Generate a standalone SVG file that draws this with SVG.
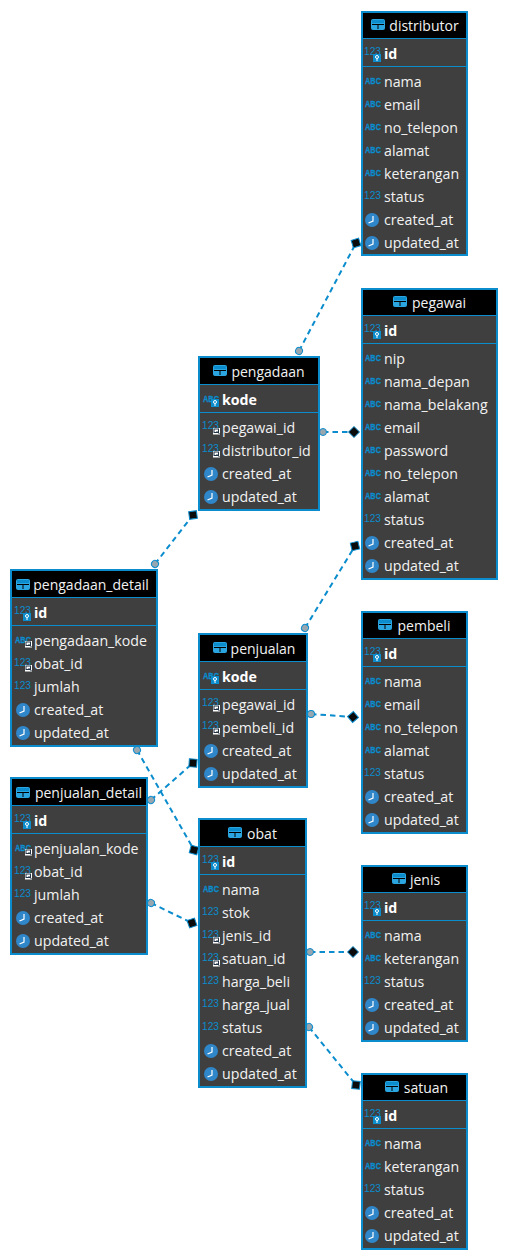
<svg xmlns="http://www.w3.org/2000/svg" width="508" height="1260" viewBox="0 0 508 1260">
<style>
.b{fill:#3f3f3f;stroke:#0a8ccd;stroke-width:2}
.h{fill:#000}
.l{stroke:#0a8ccd;stroke-width:1;fill:none}
text{font-family:"Open Sans","Noto Sans","Liberation Sans",sans-serif;font-size:14.2px;fill:#f2f2f2}
.t{text-anchor:middle;font-size:14px}
.k{font-weight:700;fill:#fff}
.i{font-size:11px;fill:#0a8ccd;font-family:"Liberation Sans",sans-serif}
.a{font-size:9.5px;font-weight:700;fill:#0a8ccd;stroke:#0a8ccd;stroke-width:.3;font-family:"Liberation Sans",sans-serif}
.c{fill:none;stroke:#0a8ccd;stroke-width:2;stroke-dasharray:5.500 4;marker-start:url(#s);marker-end:url(#e)}
</style>
<defs>
<marker id="s" markerUnits="userSpaceOnUse" markerWidth="10" markerHeight="10" refX="5" refY="5" orient="auto"><circle cx="5" cy="5" r="3.500" fill="#97a6af" stroke="#0a8ccd" stroke-width="1"/></marker>
<marker id="e" markerUnits="userSpaceOnUse" markerWidth="14" markerHeight="14" refX="7" refY="7" orient="auto"><path d="M7 1.500L12.500 7 7 12.500 1.500 7Z" fill="#0b0b0b" stroke="#0a8ccd" stroke-width="1"/></marker>
<g id="tb"><rect x="0" y="0" width="14" height="11" rx="2" fill="#2aa5e0"/><path d="M1 5.500H13M7 5.500V10" stroke="#000" stroke-width="1"/><rect x="1" y="1" width="12" height="3" fill="#0a8ccd"/></g>
<g id="n"><text class="i" textLength="17" lengthAdjust="spacingAndGlyphs">123</text></g>
<g id="s1"><text class="a" y="3" textLength="16" lengthAdjust="spacingAndGlyphs">ABC</text></g>
<g id="clk"><circle cx="7" cy="7" r="7" fill="#2f86c9"/><path d="M8 3V8L3.500 10" fill="none" stroke="#fff" stroke-width="1.200"/></g>
<g id="key"><rect x="0" y="0" width="8" height="8" fill="#0a8ccd"/><circle cx="4" cy="3" r="1.500" fill="none" stroke="#fff"/><path d="M4 4.500V7" stroke="#fff"/></g>
<g id="fk"><rect x="0" y="0" width="7" height="6.500" fill="#fff"/><rect x="1" y="1" width="4.500" height="3.500" fill="none" stroke="#234" stroke-width="1"/><path d="M3.500 3L6.500 6" stroke="#234"/></g>
</defs>
<g id="connectors">
<path class="c" d="M299 351L356 243"/>
<path class="c" d="M323 432H354"/>
<path class="c" d="M155 564L193 515"/>
<path class="c" d="M305 628L355 546"/>
<path class="c" d="M311 714L353 717"/>
<path class="c" d="M151 800L193 763"/>
<path class="c" d="M137 750L194 850"/>
<path class="c" d="M151 903L192 923"/>
<path class="c" d="M310 952H353"/>
<path class="c" d="M309 1027L356 1085"/>
</g>
<g id="distributor">
<rect class="b" x="362" y="12" width="105" height="243"/><rect class="h" x="363" y="13" width="103" height="25"/><path class="l" d="M362 38.500H467M362 66.500H467"/>
<use href="#tb" x="371" y="19"/><text class="t" x="424" y="31">distributor</text>
<use href="#n" x="364" y="55"/><use href="#key" x="373" y="54"/><text class="k" x="384" y="59">id</text>
<use href="#s1" x="365" y="81"/><text x="384" y="87">nama</text>
<use href="#s1" x="365" y="104"/><text x="384" y="110">email</text>
<use href="#s1" x="365" y="127"/><text x="384" y="133">no_telepon</text>
<use href="#s1" x="365" y="150"/><text x="384" y="156">alamat</text>
<use href="#s1" x="365" y="173"/><text x="384" y="179">keterangan</text>
<use href="#n" x="364" y="199"/><text x="384" y="202">status</text>
<use href="#clk" x="365" y="213"/><text x="384" y="225">created_at</text>
<use href="#clk" x="365" y="236"/><text x="384" y="248">updated_at</text>
</g>
<g id="pegawai">
<rect class="b" x="362" y="289" width="135" height="290"/><rect class="h" x="363" y="290" width="133" height="25"/><path class="l" d="M362 315.500H497M362 343.500H497"/>
<use href="#tb" x="393" y="296"/><text class="t" x="439" y="308">pegawai</text>
<use href="#n" x="364" y="332"/><use href="#key" x="373" y="331"/><text class="k" x="384" y="336">id</text>
<use href="#s1" x="365" y="358"/><text x="384" y="364">nip</text>
<use href="#s1" x="365" y="381"/><text x="384" y="387">nama_depan</text>
<use href="#s1" x="365" y="404"/><text x="384" y="410">nama_belakang</text>
<use href="#s1" x="365" y="427"/><text x="384" y="433">email</text>
<use href="#s1" x="365" y="450"/><text x="384" y="456">password</text>
<use href="#s1" x="365" y="473"/><text x="384" y="479">no_telepon</text>
<use href="#s1" x="365" y="496"/><text x="384" y="502">alamat</text>
<use href="#n" x="364" y="522"/><text x="384" y="525">status</text>
<use href="#clk" x="365" y="536"/><text x="384" y="548">created_at</text>
<use href="#clk" x="365" y="559"/><text x="384" y="571">updated_at</text>
</g>
<g id="pembeli">
<rect class="b" x="362" y="612" width="105" height="221"/><rect class="h" x="363" y="613" width="103" height="25"/><path class="l" d="M362 638.500H467M362 666.500H467"/>
<use href="#tb" x="378" y="619"/><text class="t" x="424" y="631">pembeli</text>
<use href="#n" x="364" y="655"/><use href="#key" x="373" y="654"/><text class="k" x="384" y="659">id</text>
<use href="#s1" x="365" y="681"/><text x="384" y="687">nama</text>
<use href="#s1" x="365" y="704"/><text x="384" y="710">email</text>
<use href="#s1" x="365" y="727"/><text x="384" y="733">no_telepon</text>
<use href="#s1" x="365" y="750"/><text x="384" y="756">alamat</text>
<use href="#n" x="364" y="776"/><text x="384" y="779">status</text>
<use href="#clk" x="365" y="790"/><text x="384" y="802">created_at</text>
<use href="#clk" x="365" y="813"/><text x="384" y="825">updated_at</text>
</g>
<g id="jenis">
<rect class="b" x="362" y="866" width="105" height="175"/><rect class="h" x="363" y="867" width="103" height="25"/><path class="l" d="M362 892.500H467M362 920.500H467"/>
<use href="#tb" x="392" y="873"/><text class="t" x="425" y="885">jenis</text>
<use href="#n" x="364" y="909"/><use href="#key" x="373" y="908"/><text class="k" x="384" y="913">id</text>
<use href="#s1" x="365" y="935"/><text x="384" y="941">nama</text>
<use href="#s1" x="365" y="958"/><text x="384" y="964">keterangan</text>
<use href="#n" x="364" y="984"/><text x="384" y="987">status</text>
<use href="#clk" x="365" y="998"/><text x="384" y="1010">created_at</text>
<use href="#clk" x="365" y="1021"/><text x="384" y="1033">updated_at</text>
</g>
<g id="satuan">
<rect class="b" x="362" y="1074" width="105" height="175"/><rect class="h" x="363" y="1075" width="103" height="25"/><path class="l" d="M362 1100.500H467M362 1128.500H467"/>
<use href="#tb" x="385" y="1081"/><text class="t" x="426" y="1093">satuan</text>
<use href="#n" x="364" y="1117"/><use href="#key" x="373" y="1116"/><text class="k" x="384" y="1121">id</text>
<use href="#s1" x="365" y="1143"/><text x="384" y="1149">nama</text>
<use href="#s1" x="365" y="1166"/><text x="384" y="1172">keterangan</text>
<use href="#n" x="364" y="1192"/><text x="384" y="1195">status</text>
<use href="#clk" x="365" y="1206"/><text x="384" y="1218">created_at</text>
<use href="#clk" x="365" y="1229"/><text x="384" y="1241">updated_at</text>
</g>
<g id="pengadaan">
<rect class="b" x="199" y="357" width="120" height="153"/><rect class="h" x="200" y="358" width="118" height="26"/><path class="l" d="M199 384.500H319M199 412.500H319"/>
<use href="#tb" x="213" y="365"/><text class="t" x="268" y="377">pengadaan</text>
<use href="#s1" x="203" y="399"/><use href="#key" x="211" y="399"/><text class="k" x="222" y="405">kode</text>
<use href="#n" x="202" y="429"/><use href="#fk" x="213" y="428"/><text x="222" y="433">pegawai_id</text>
<use href="#n" x="202" y="452"/><use href="#fk" x="213" y="451"/><text x="222" y="456">distributor_id</text>
<use href="#clk" x="204" y="467"/><text x="222" y="479">created_at</text>
<use href="#clk" x="204" y="490"/><text x="222" y="502">updated_at</text>
</g>
<g id="penjualan">
<rect class="b" x="199" y="634" width="108" height="153"/><rect class="h" x="200" y="635" width="106" height="26"/><path class="l" d="M199 661.500H307M199 689.500H307"/>
<use href="#tb" x="213" y="642"/><text class="t" x="263" y="654">penjualan</text>
<use href="#s1" x="203" y="676"/><use href="#key" x="211" y="676"/><text class="k" x="222" y="682">kode</text>
<use href="#n" x="202" y="706"/><use href="#fk" x="213" y="705"/><text x="222" y="710">pegawai_id</text>
<use href="#n" x="202" y="729"/><use href="#fk" x="213" y="728"/><text x="222" y="733">pembeli_id</text>
<use href="#clk" x="204" y="744"/><text x="222" y="756">created_at</text>
<use href="#clk" x="204" y="767"/><text x="222" y="779">updated_at</text>
</g>
<g id="obat">
<rect class="b" x="199" y="819" width="107" height="268"/><rect class="h" x="200" y="820" width="105" height="26"/><path class="l" d="M199 846.500H306M199 874.500H306"/>
<use href="#tb" x="228" y="827"/><text class="t" x="262" y="839">obat</text>
<use href="#n" x="202" y="863"/><use href="#key" x="211" y="862"/><text class="k" x="222" y="867">id</text>
<use href="#s1" x="203" y="889"/><text x="222" y="895">nama</text>
<use href="#n" x="202" y="915"/><text x="222" y="918">stok</text>
<use href="#n" x="202" y="938"/><use href="#fk" x="213" y="937"/><text x="222" y="941">jenis_id</text>
<use href="#n" x="202" y="961"/><use href="#fk" x="213" y="960"/><text x="222" y="964">satuan_id</text>
<use href="#n" x="202" y="984"/><text x="222" y="987">harga_beli</text>
<use href="#n" x="202" y="1007"/><text x="222" y="1010">harga_jual</text>
<use href="#n" x="202" y="1030"/><text x="222" y="1033">status</text>
<use href="#clk" x="204" y="1044"/><text x="222" y="1056">created_at</text>
<use href="#clk" x="204" y="1067"/><text x="222" y="1079">updated_at</text>
</g>
<g id="pengadaan_detail">
<rect class="b" x="11" y="570" width="146" height="176"/><rect class="h" x="12" y="571" width="144" height="26"/><path class="l" d="M11 597.500H157M11 625.500H157"/>
<use href="#tb" x="16" y="579"/><text class="t" x="91" y="590">pengadaan_detail</text>
<use href="#n" x="14" y="614"/><use href="#key" x="23" y="613"/><text class="k" x="34" y="618">id</text>
<use href="#s1" x="15" y="640"/><use href="#fk" x="25" y="641"/><text x="34" y="646">pengadaan_kode</text>
<use href="#n" x="14" y="666"/><use href="#fk" x="25" y="665"/><text x="34" y="669">obat_id</text>
<use href="#n" x="14" y="689"/><text x="34" y="692">jumlah</text>
<use href="#clk" x="16" y="703"/><text x="34" y="715">created_at</text>
<use href="#clk" x="16" y="726"/><text x="34" y="738">updated_at</text>
</g>
<g id="penjualan_detail">
<rect class="b" x="11" y="778" width="136" height="176"/><rect class="h" x="12" y="779" width="134" height="26"/><path class="l" d="M11 805.500H147M11 833.500H147"/>
<use href="#tb" x="16" y="787"/><text class="t" x="88.500" y="798">penjualan_detail</text>
<use href="#n" x="14" y="822"/><use href="#key" x="23" y="821"/><text class="k" x="34" y="826">id</text>
<use href="#s1" x="15" y="848"/><use href="#fk" x="25" y="849"/><text x="34" y="854">penjualan_kode</text>
<use href="#n" x="14" y="874"/><use href="#fk" x="25" y="873"/><text x="34" y="877">obat_id</text>
<use href="#n" x="14" y="897"/><text x="34" y="900">jumlah</text>
<use href="#clk" x="16" y="911"/><text x="34" y="923">created_at</text>
<use href="#clk" x="16" y="934"/><text x="34" y="946">updated_at</text>
</g>
</svg>
